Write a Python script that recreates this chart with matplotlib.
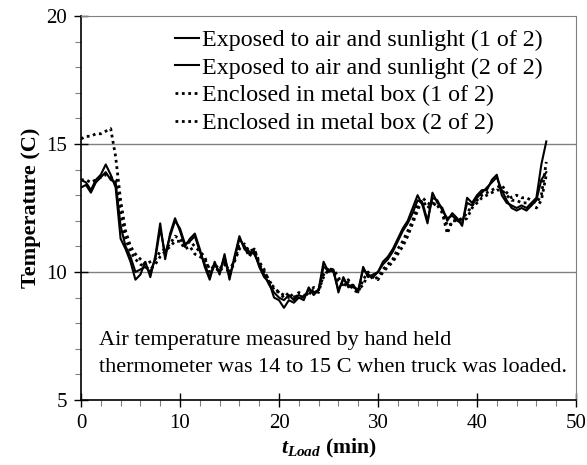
import numpy as np
import matplotlib
matplotlib.use('Agg')
import matplotlib.pyplot as plt
from matplotlib.ticker import MultipleLocator

plt.rcParams['font.family'] = ['Liberation Serif', 'DejaVu Serif']
plt.rcParams['mathtext.fontset'] = 'custom'
plt.rcParams['mathtext.it'] = 'Liberation Serif:italic:bold'
plt.rcParams['mathtext.rm'] = 'Liberation Serif:bold'

# sample times (min), every 0.5 min
t = np.arange(0, 47.01, 0.5)

exposed_1 = [13.6, 13.5, 13.2, 13.6, 13.8, 14.2, 13.8, 13.3, 11.3, 10.9,
             10.4, 9.7, 9.9, 10.4, 9.8, 10.6, 11.9, 10.5, 11.5, 12.1,
             11.6, 11.0, 11.3, 11.5, 10.9, 10.2, 9.7, 10.4, 9.9, 10.7,
             9.7, 10.6, 11.4, 10.9, 10.7, 10.8, 10.2, 9.8, 9.6, 9.0,
             8.9, 8.6, 8.9, 8.8, 9.0, 8.9, 9.4, 9.1, 9.3, 10.4,
             10.0, 10.1, 9.2, 9.8, 9.4, 9.5, 9.2, 10.2, 9.8, 9.9,
             10.0, 10.4, 10.6, 10.9, 11.3, 11.7, 12.0, 12.5, 13.0, 12.6,
             11.9, 13.1, 12.7, 12.5, 12.0, 12.3, 12.1, 11.8, 12.9, 12.7,
             13.0, 13.2, 13.2, 13.6, 13.8, 13.0, 12.7, 12.6, 12.5, 12.6,
             12.5, 12.7, 12.9, 14.2, 15.1]
exposed_2 = [13.3, 13.4, 13.1, 13.5, 13.7, 13.9, 13.6, 13.5, 11.8, 11.0,
             10.6, 10.0, 10.1, 10.2, 10.0, 10.5, 11.7, 10.7, 11.4, 12.0,
             11.7, 11.1, 11.2, 11.4, 10.8, 10.3, 9.8, 10.3, 10.0, 10.6,
             9.8, 10.5, 11.3, 11.0, 10.8, 10.7, 10.3, 9.9, 9.5, 9.2,
             9.0, 8.9, 9.1, 8.9, 9.1, 9.0, 9.3, 9.2, 9.3, 10.2,
             10.1, 10.0, 9.3, 9.7, 9.5, 9.4, 9.3, 10.1, 9.9, 9.8,
             10.0, 10.3, 10.5, 10.8, 11.2, 11.6, 11.9, 12.3, 12.8, 12.7,
             12.0, 12.9, 12.8, 12.4, 12.1, 12.2, 12.0, 11.9, 12.7, 12.6,
             12.9, 13.1, 13.3, 13.5, 13.7, 13.2, 12.8, 12.5, 12.4, 12.5,
             12.4, 12.6, 12.8, 13.6, 13.9]
box_1 = [15.2, 15.3, 15.3, 15.4, 15.4, 15.5, 15.6, 14.5, 12.8, 11.6,
         11.0, 10.7, 10.5, 10.3, 10.4, 10.5, 10.8, 10.9, 11.1, 11.4,
         11.3, 11.0, 11.2, 11.0, 10.8, 10.6, 10.0, 10.3, 10.1, 10.4,
         10.0, 10.5, 11.0, 11.0, 10.6, 10.9, 10.3, 10.0, 9.7, 9.3,
         9.2, 9.0, 9.2, 9.0, 9.1, 9.0, 9.2, 9.3, 9.2, 9.9,
         10.2, 10.0, 9.6, 9.5, 9.6, 9.3, 9.2, 9.7, 10.0, 9.7,
         9.8, 10.1, 10.3, 10.5, 10.9, 11.2, 11.6, 12.0, 12.6, 12.8,
         12.5, 12.7, 12.6, 12.3, 11.5, 12.0, 12.0, 12.1, 12.3, 12.6,
         12.8, 13.0, 13.1, 13.2, 13.3, 13.4, 13.1, 12.9, 13.0, 12.9,
         12.9, 12.8, 12.7, 13.0, 14.3]
box_2 = [13.6, 13.6, 13.5, 13.6, 13.7, 13.8, 13.7, 13.6, 12.3, 11.3,
         10.8, 10.5, 10.3, 10.2, 10.1, 10.3, 10.6, 10.8, 11.0, 11.2,
         11.2, 10.9, 11.0, 10.7, 10.6, 10.5, 10.1, 10.2, 10.0, 10.3,
         9.9, 10.4, 10.9, 11.1, 10.8, 10.9, 10.4, 10.1, 9.6, 9.4,
         9.2, 9.1, 9.0, 9.0, 9.2, 9.1, 9.1, 9.4, 9.3, 9.8,
         10.1, 10.1, 9.8, 9.4, 9.7, 9.4, 9.3, 9.5, 9.9, 9.8,
         9.7, 10.0, 10.2, 10.4, 10.7, 11.0, 11.4, 11.9, 12.4, 12.9,
         12.7, 12.6, 12.7, 12.4, 11.8, 11.9, 12.1, 12.0, 12.1, 12.5,
         12.7, 12.9, 13.0, 13.1, 13.2, 13.2, 13.0, 12.8, 12.8, 12.7,
         12.7, 12.6, 12.5, 12.8, 13.8]

labels = ['Exposed to air and sunlight (1 of 2)',
          'Exposed to air and sunlight (2 of 2)',
          'Enclosed in metal box (1 of 2)',
          'Enclosed in metal box (2 of 2)']

fig = plt.figure(figsize=(5.87, 4.65), dpi=100)
ax = fig.add_axes([81 / 587, 65 / 465, 495 / 587, 384 / 465])

dots = (0, (1, 1.3))
ax.plot(t, exposed_1, color='black', lw=1.5, label=labels[0])
ax.plot(t, exposed_2, color='black', lw=1.5, label=labels[1])
ax.plot(t, box_1, color='black', lw=2.0, linestyle=dots, label=labels[2])
ax.plot(t, box_2, color='black', lw=2.0, linestyle=dots, label=labels[3])

ax.set_xlim(0, 50)
ax.set_ylim(5, 20)
ax.xaxis.set_major_locator(MultipleLocator(10))
ax.xaxis.set_minor_locator(MultipleLocator(2))
ax.yaxis.set_major_locator(MultipleLocator(5))
ax.yaxis.set_minor_locator(MultipleLocator(1))
ax.tick_params(which='major', direction='inout', length=10, width=1, labelsize=15, pad=5)
ax.tick_params(which='minor', direction='out', length=4, width=0.8, color='#808080')

# gray gridlines at 10 and 15, gray frame on top/right
for yv in [10, 15]:
    ax.axhline(yv, color='#808080', lw=1, zorder=0)
ax.spines['top'].set_color('#808080')
ax.spines['right'].set_color('#808080')
ax.spines['left'].set_linewidth(1.2)
ax.spines['bottom'].set_linewidth(1.2)

ax.set_ylabel('Temperature (C)', fontsize=16, fontweight='bold', labelpad=4)
ax.set_xlabel(r'$t_{Load}$ (min)', fontsize=15.7, fontweight='bold', labelpad=3)

ax.legend(loc='upper left', bbox_to_anchor=(0.19, 0.965), frameon=False,
          fontsize=17.3, handlelength=1.0, handletextpad=0.12,
          labelspacing=0.24, borderaxespad=0, borderpad=0)

ax.text(1.8, 6.8, 'Air temperature measured by hand held\n'
        'thermometer was 14 to 15 C when truck was loaded.',
        fontsize=16, ha='left', va='center', linespacing=1.6)

fig.savefig('out.png', dpi=100)
